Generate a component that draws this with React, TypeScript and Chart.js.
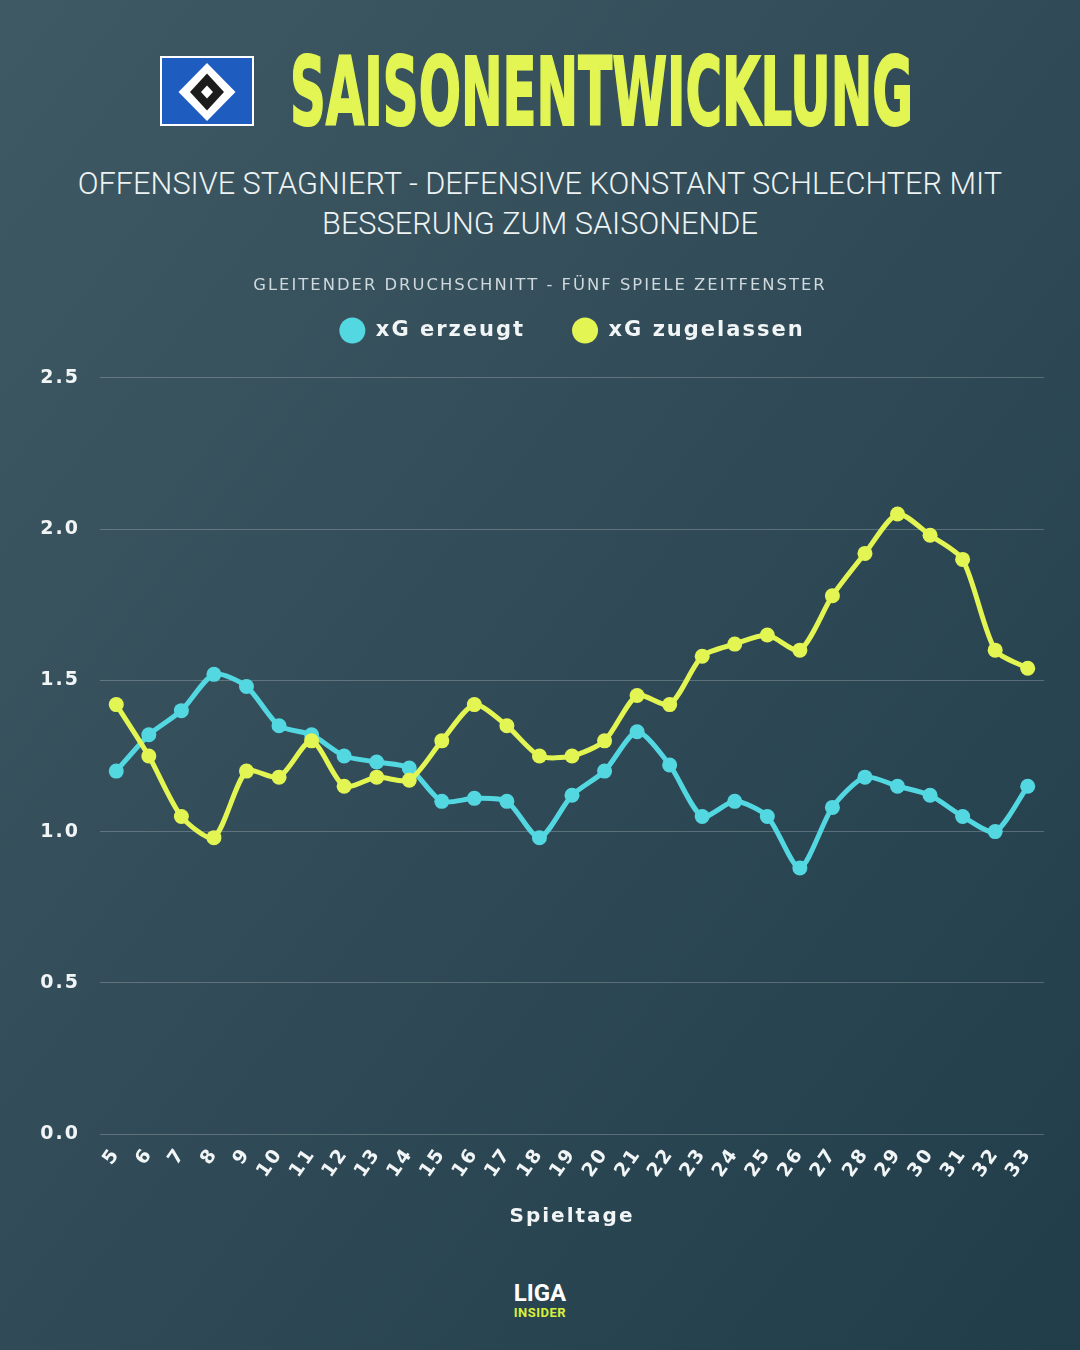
import React, { useEffect, useLayoutEffect, useRef, useState } from 'react';
import { Chart, registerables } from 'chart.js';

Chart.register(...registerables);

// Matchdays (rolling five-game window ends here)
const spieltage = [
  '5', '6', '7', '8', '9', '10', '11', '12', '13', '14', '15', '16', '17', '18', '19',
  '20', '21', '22', '23', '24', '25', '26', '27', '28', '29', '30', '31', '32', '33',
];

// Rolling average of expected goals created
const xgErzeugt = [
  1.2, 1.32, 1.4, 1.52, 1.48, 1.35, 1.32, 1.25, 1.23, 1.21, 1.1, 1.11, 1.1, 0.98, 1.12,
  1.2, 1.33, 1.22, 1.05, 1.1, 1.05, 0.88, 1.08, 1.18, 1.15, 1.12, 1.05, 1.0, 1.15,
];

// Rolling average of expected goals conceded
const xgZugelassen = [
  1.42, 1.25, 1.05, 0.98, 1.2, 1.18, 1.3, 1.15, 1.18, 1.17, 1.3, 1.42, 1.35, 1.25, 1.25,
  1.3, 1.45, 1.42, 1.58, 1.62, 1.65, 1.6, 1.78, 1.92, 2.05, 1.98, 1.9, 1.6, 1.54,
];

const yTickValues = [0, 0.5, 1.0, 1.5, 2.0, 2.5];

const seriesLabels = ['xG erzeugt', 'xG zugelassen'];

const CYAN = '#53d8e2';
const YELLOW = '#e3f553';
const TEXT = '#f1f5f6';
const FONT = '"DejaVu Sans", Verdana, sans-serif';
const TRACKING = '2px';

const TITLE_WIDTH = 623;
const LEGEND_BLOCK = 105;

// Wide tracking for every text the chart measures and draws
const trackingPlugin = {
  id: 'tracking',
  beforeUpdate(chart: any) {
    chart.ctx.letterSpacing = TRACKING;
  },
  beforeLayout(chart: any) {
    chart.ctx.letterSpacing = TRACKING;
  },
  beforeDraw(chart: any) {
    chart.ctx.letterSpacing = TRACKING;
  },
};

// Extra room between the legend row and the plot
const legendSpacingPlugin = {
  id: 'legendSpacing',
  beforeInit(chart: any) {
    const legend = chart.legend;
    if (!legend) return;
    const fit = legend.fit;
    legend.fit = function () {
      fit.call(this);
      this.height = LEGEND_BLOCK;
    };
  },
};

function HsvFlag() {
  return (
    <svg
      width={94}
      height={70}
      viewBox="0 0 94 70"
      style={{ position: 'absolute', left: 160, top: 56 }}
    >
      <rect x={1} y={1} width={92} height={68} fill="#1f5cbf" stroke="#ffffff" strokeWidth={2} />
      <polygon points="47,7 75.5,36 47,65 18.5,36" fill="#ffffff" />
      <polygon points="47,17.5 64,36 47,54.5 30,36" fill="#1c1c1c" />
      <polygon points="47,29.5 53,36 47,42.5 41,36" fill="#ffffff" />
    </svg>
  );
}

function XgChart() {
  const canvasRef = useRef<HTMLCanvasElement | null>(null);

  useEffect(() => {
    const canvas = canvasRef.current;
    if (!canvas) return;

    const chart = new Chart(canvas, {
      type: 'line',
      data: {
        labels: spieltage,
        datasets: [
          {
            label: seriesLabels[0],
            data: xgErzeugt,
            borderColor: CYAN,
            backgroundColor: CYAN,
            borderWidth: 5,
            pointRadius: 7.5,
            pointHoverRadius: 7.5,
            pointBorderWidth: 0,
            tension: 0.25,
            borderCapStyle: 'round',
            borderJoinStyle: 'round',
            order: 1,
          },
          {
            label: seriesLabels[1],
            data: xgZugelassen,
            borderColor: YELLOW,
            backgroundColor: YELLOW,
            borderWidth: 5,
            pointRadius: 7.5,
            pointHoverRadius: 7.5,
            pointBorderWidth: 0,
            tension: 0.25,
            borderCapStyle: 'round',
            borderJoinStyle: 'round',
            order: 0,
          },
        ],
      },
      options: {
        responsive: false,
        animation: false,
        events: [],
        layout: { padding: { left: 36, right: 36, top: 0, bottom: 0 } },
        plugins: {
          tooltip: { enabled: false },
          title: {
            display: true,
            text: 'GLEITENDER DRUCHSCHNITT - FÜNF SPIELE ZEITFENSTER',
            color: '#cfd8dc',
            font: { family: FONT, size: 16.4, weight: 'normal', lineHeight: 1.2 },
            padding: { top: 14.2, bottom: -22.9 },
          },
          legend: {
            display: true,
            position: 'top',
            fullSize: false,
            labels: {
              usePointStyle: true,
              pointStyle: 'circle',
              pointStyleWidth: 26,
              boxHeight: 18.4,
              padding: 47,
              color: TEXT,
              font: { family: FONT, size: 21, weight: 'bold' },
              sort: (a: any, b: any) => a.datasetIndex - b.datasetIndex,
              generateLabels: (c: any) =>
                Chart.defaults.plugins.legend.labels
                  .generateLabels(c)
                  .map((item: any) => ({ ...item, lineWidth: 0 })),
            },
          },
        },
        scales: {
          x: {
            type: 'category',
            offset: true,
            grid: { display: false, drawTicks: false },
            border: { display: false },
            ticks: {
              color: TEXT,
              font: { family: FONT, size: 19, weight: 'bold' },
              minRotation: 55,
              maxRotation: 55,
              autoSkip: false,
              padding: 10,
            },
            title: {
              display: true,
              text: 'Spieltage',
              color: TEXT,
              font: { family: FONT, size: 20, weight: 'bold', lineHeight: 1.2 },
              padding: { top: 0, bottom: 11 },
            },
            afterFit: (scale: any) => {
              scale.height = 106;
            },
          },
          y: {
            type: 'linear',
            min: 0,
            max: 2.5,
            grid: {
              color: 'rgba(255,255,255,0.22)',
              lineWidth: 1,
              drawTicks: false,
            },
            border: { display: false },
            afterBuildTicks: (scale: any) => {
              scale.ticks = yTickValues.map((value) => ({ value }));
            },
            ticks: {
              color: TEXT,
              font: { family: FONT, size: 19, weight: 'bold' },
              padding: 20,
              callback: (value: any) => Number(value).toFixed(1),
            },
            afterFit: (scale: any) => {
              scale.width = 64;
            },
          },
        },
      },
      plugins: [trackingPlugin, legendSpacingPlugin],
    });

    return () => chart.destroy();
  }, []);

  return (
    <canvas
      ref={canvasRef}
      width={1080}
      height={978}
      style={{ position: 'absolute', left: 0, top: 262, width: 1080, height: 978 }}
    />
  );
}

export default function App() {
  const titleRef = useRef<HTMLSpanElement | null>(null);
  const [titleScale, setTitleScale] = useState(1);

  useLayoutEffect(() => {
    const el = titleRef.current;
    if (el && el.offsetWidth > 0) setTitleScale(TITLE_WIDTH / el.offsetWidth);
  }, []);

  return (
    <div
      style={{
        position: 'fixed',
        left: 0,
        top: 0,
        width: 1080,
        height: 1350,
        overflow: 'hidden',
        background: 'linear-gradient(to bottom right, #3f5964 0%, #304b57 50%, #213d4a 100%)',
        fontFamily: FONT,
      }}
    >
      <HsvFlag />
      <span
        ref={titleRef}
        style={{
          position: 'absolute',
          left: 290,
          top: 46,
          display: 'inline-block',
          whiteSpace: 'nowrap',
          fontFamily: '"DejaVu Sans Condensed", "DejaVu Sans", sans-serif',
          fontWeight: 'bold',
          fontSize: 94,
          lineHeight: 1,
          color: YELLOW,
          WebkitTextStroke: `2px ${YELLOW}`,
          transformOrigin: 'left top',
          transform: `scaleX(${titleScale})`,
        }}
      >
        SAISONENTWICKLUNG
      </span>
      <div
        style={{
          position: 'absolute',
          left: 0,
          top: 164,
          width: 1080,
          textAlign: 'center',
          fontFamily: 'Roboto, "Open Sans", sans-serif',
          fontWeight: 300,
          fontSize: 30.7,
          lineHeight: '40px',
          color: '#eef3f4',
        }}
      >
        <div>OFFENSIVE STAGNIERT - DEFENSIVE KONSTANT SCHLECHTER MIT</div>
        <div>BESSERUNG ZUM SAISONENDE</div>
      </div>
      <XgChart />
      <div
        style={{
          position: 'absolute',
          left: 0,
          top: 1280,
          width: 1080,
          textAlign: 'center',
          fontFamily: 'Roboto, "Open Sans", sans-serif',
          fontWeight: 'bold',
        }}
      >
        <div style={{ fontSize: 24, lineHeight: '26px', color: '#ffffff' }}>LIGA</div>
        <div style={{ fontSize: 13, lineHeight: '14px', color: '#d8f03c', letterSpacing: 0.5 }}>
          INSIDER
        </div>
      </div>
    </div>
  );
}
